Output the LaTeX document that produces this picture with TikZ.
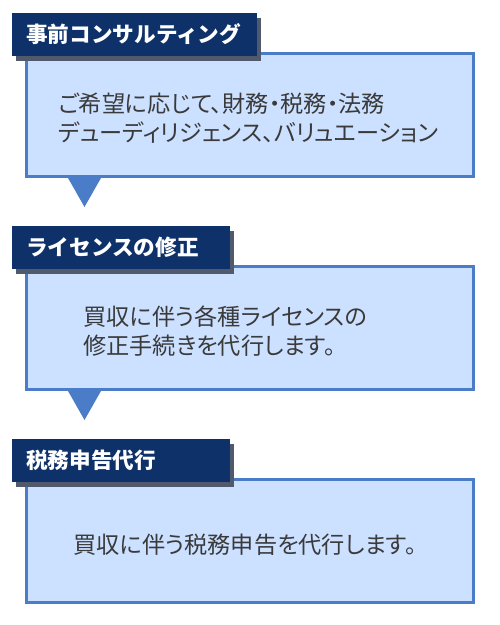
\documentclass[tikz,border=0pt]{standalone}
\usepackage{fontspec}
\setmainfont{Noto Sans CJK JP}
\newfontfamily\jpbody[RawFeature=+palt]{Noto Sans CJK JP}
\usepackage{tikz}
\usetikzlibrary{positioning,shadows}
\definecolor{navyhead}{RGB}{13,49,104}
\definecolor{boxblue}{RGB}{204,224,255}
\definecolor{edgeblue}{RGB}{74,124,200}
\definecolor{shadowgray}{RGB}{80,90,108}
\definecolor{textdark}{RGB}{58,58,58}

\begin{document}
\begin{tikzpicture}[node distance=1.74cm,every node/.style={font=\jpbody\fontsize{13.2}{16.5}\selectfont}]
\tikzstyle{stepbox}=[draw=edgeblue,line width=0.06cm,fill=boxblue,minimum width=8.94cm,minimum height=2.46cm]
\tikzstyle{head}=[fill=navyhead,text=white,font=\fontsize{12.3}{14}\selectfont\bfseries,anchor=south west,inner xsep=0.28cm,text width=3.8cm,minimum height=0.86cm,align=left,drop shadow={shadow xshift=0.08cm,shadow yshift=-0.1cm,fill=shadowgray,opacity=1}]
\tikzstyle{body}=[text=textdark,anchor=west,inner sep=0pt,align=left]
\tikzstyle{pointer}=[fill=edgeblue]
\useasboundingbox (0,0) rectangle (10,-12.5);
% boxes
\node[stepbox] (box1) at (5,-2.3) {};
\node[stepbox,below=of box1] (box2) {};
\node[stepbox,below=of box2] (box3) {};
% headings
\node[head,text width=4.34cm] (h1) at ([xshift=-0.26cm,yshift=-0.08cm]box1.north west) {事前コンサルティング};
\node[head] (h2) at ([xshift=-0.26cm,yshift=-0.08cm]box2.north west) {ライセンスの修正};
\node[head] (h3) at ([xshift=-0.26cm,yshift=-0.08cm]box3.north west) {税務申告代行};
% texts
\node[body] (t1) at ([xshift=0.66cm,yshift=-0.07cm]box1.west) {ご希望に応じて、財務・税務・法務\\デューディリジェンス、バリュエーション};
\node[body] (t2) at ([xshift=1.16cm,yshift=-0.07cm]box2.west) {買収に伴う各種ライセンスの\\修正手続きを代行します。};
\node[body] (t3) at ([xshift=0.96cm,yshift=-0.07cm]box3.west) {買収に伴う税務申告を代行します。};
% pointers
\fill[pointer] ([xshift=0.86cm]box1.south west) -- ([xshift=1.52cm]box1.south west) -- ([xshift=1.19cm,yshift=-0.58cm]box1.south west) -- cycle;
\fill[pointer] ([xshift=0.86cm]box2.south west) -- ([xshift=1.52cm]box2.south west) -- ([xshift=1.19cm,yshift=-0.58cm]box2.south west) -- cycle;
\end{tikzpicture}
\end{document}
